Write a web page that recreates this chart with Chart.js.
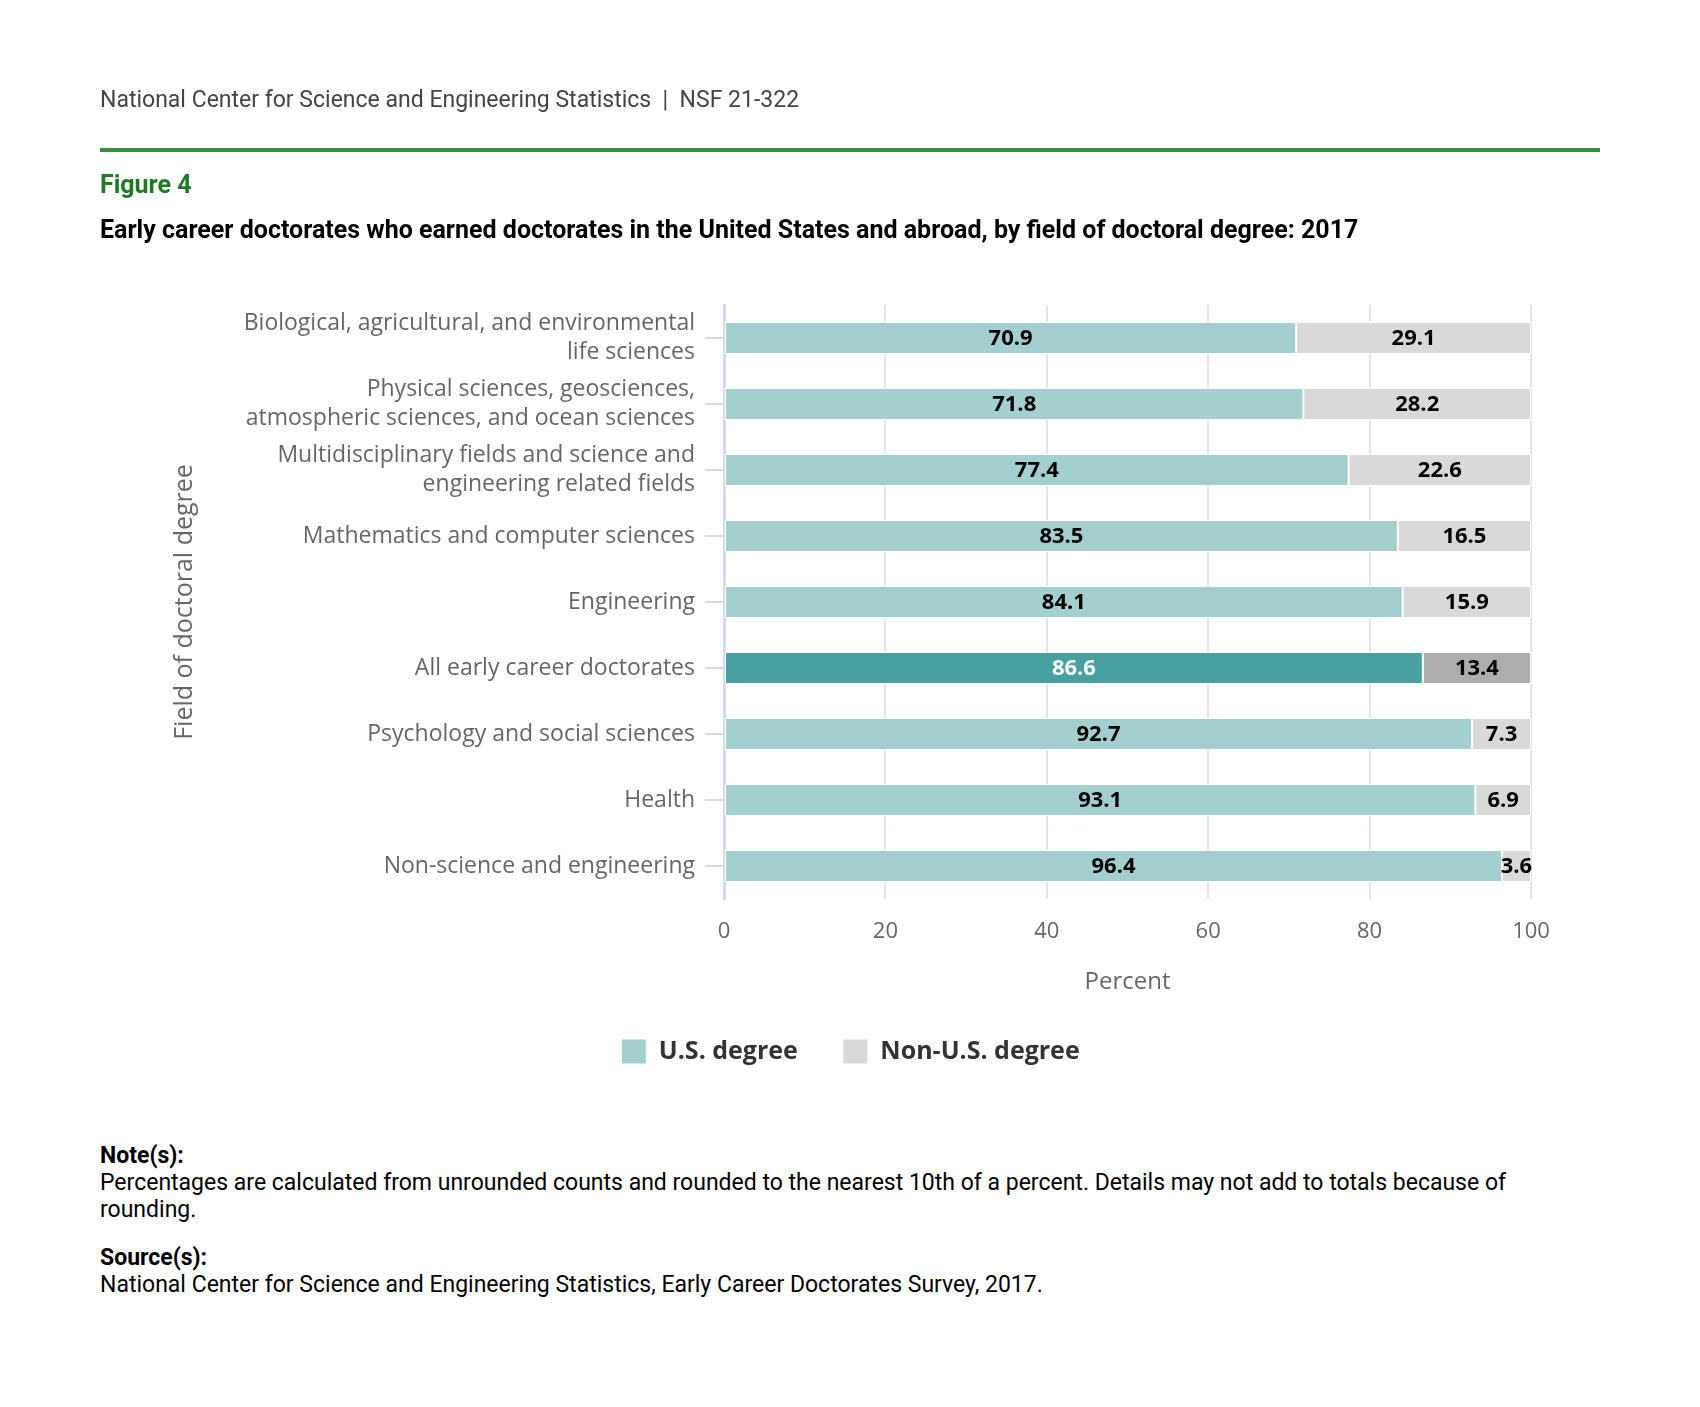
<!DOCTYPE html>
<html><head><meta charset="utf-8">
<script src="https://cdn.jsdelivr.net/npm/chart.js@4.4.0/dist/chart.umd.min.js"></script>
<style>
html,body{margin:0;padding:0;background:#fff;}
body{width:1700px;height:1407px;position:relative;overflow:hidden;font-family:Roboto,sans-serif;}
.t{position:absolute;left:100px;white-space:nowrap;}
#hdr{top:87px;font-size:23px;color:#444;line-height:26px;}
#rule{position:absolute;left:100px;top:148px;width:1500px;height:4px;background:#3b8b45;}
#fig{top:172px;font-size:25px;font-weight:bold;color:#1f7a26;line-height:26px;}
#ttl{top:217px;font-size:25px;font-weight:bold;color:#000;line-height:26px;}
#wrap{position:absolute;left:0;top:0;width:1700px;height:1100px;}
#notes{position:absolute;left:100px;top:1142px;font-size:23px;line-height:27px;color:#000;}
#notes b{font-weight:bold;}
#notes .gap{height:21px;}
</style></head><body>
<div id="wrap"><canvas id="c" width="1700" height="1100"></canvas></div>
<div class="t" id="hdr">National Center for Science and Engineering Statistics&nbsp; |&nbsp; NSF 21-322</div>
<div id="rule"></div>
<div class="t" id="fig">Figure 4</div>
<div class="t" id="ttl">Early career doctorates who earned doctorates in the United States and abroad, by field of doctoral degree: 2017</div>
<div id="notes">
<div><b>Note(s):</b></div>
<div>Percentages are calculated from unrounded counts and rounded to the nearest 10th of a percent. Details may not add to totals because of<br>rounding.</div>
<div class="gap"></div>
<div><b>Source(s):</b></div>
<div>National Center for Science and Engineering Statistics, Early Career Doctorates Survey, 2017.</div>
</div>
<script>
const categories = [
  ["Biological, agricultural, and environmental", "life sciences"],
  ["Physical sciences, geosciences,", "atmospheric sciences, and ocean sciences"],
  ["Multidisciplinary fields and science and", "engineering related fields"],
  "Mathematics and computer sciences",
  "Engineering",
  "All early career doctorates",
  "Psychology and social sciences",
  "Health",
  "Non-science and engineering"
];
const usDegree = [70.9, 71.8, 77.4, 83.5, 84.1, 86.6, 92.7, 93.1, 96.4];
const nonUsDegree = [29.1, 28.2, 22.6, 16.5, 15.9, 13.4, 7.3, 6.9, 3.6];
const seriesNames = ["U.S. degree", "Non-U.S. degree"];
const xTickStep = 20;
const highlightIndex = 5;

const usColors = usDegree.map((v, i) => i === highlightIndex ? '#48a0a0' : '#a3cfcf');
const nonUsColors = nonUsDegree.map((v, i) => i === highlightIndex ? '#adadad' : '#d9d9d9');

const valueLabels = {
  id: 'valueLabels',
  afterDatasetsDraw(chart) {
    const ctx = chart.ctx;
    ctx.save();
    ctx.font = 'bold 22px "Open Sans"';
    ctx.textAlign = 'center';
    ctx.textBaseline = 'middle';
    chart.data.datasets.forEach((ds, di) => {
      const meta = chart.getDatasetMeta(di);
      meta.data.forEach((bar, i) => {
        const p = bar.getProps(['x', 'y', 'base'], true);
        ctx.fillStyle = (di === 0 && i === highlightIndex) ? '#ffffff' : '#000000';
        ctx.fillText(ds.data[i].toFixed(1), (p.x + p.base) / 2, p.y + 1);
      });
    });
    ctx.restore();
  }
};

function draw() {
  new Chart(document.getElementById('c'), {
    type: 'bar',
    data: {
      labels: categories,
      datasets: [
        { label: seriesNames[0], data: usDegree, backgroundColor: usColors, borderColor: '#ffffff', borderWidth: 1, borderSkipped: false, barPercentage: 0.97, categoryPercentage: 0.5 },
        { label: seriesNames[1], data: nonUsDegree, backgroundColor: nonUsColors, borderColor: '#ffffff', borderWidth: 1, borderSkipped: false, barPercentage: 0.97, categoryPercentage: 0.5 }
      ]
    },
    options: {
      indexAxis: 'y',
      responsive: false,
      animation: false,
      layout: { padding: { top: 305, left: 170, right: 169, bottom: 26 } },
      plugins: {
        tooltip: { enabled: false },
        legend: {
          position: 'bottom',
          labels: {
            boxWidth: 25, boxHeight: 25, padding: 45,
            color: '#333333',
            font: { family: 'Open Sans', size: 25, weight: 'bold' }
          }
        }
      },
      scales: {
        x: {
          stacked: true, min: 0, max: 100,
          ticks: { stepSize: xTickStep, color: '#666666', padding: 20, font: { family: 'Open Sans', size: 22 } },
          grid: { color: '#e5e5e5', lineWidth: 2, drawTicks: false },
          border: { display: false },
          title: { display: true, text: 'Percent', color: '#666666', padding: 0, font: { family: 'Open Sans', size: 24, lineHeight: 1 } },
          afterFit(s) { s.height = 95; }
        },
        y: {
          stacked: true,
          ticks: { color: '#666666', padding: 10, font: { family: 'Open Sans', size: 23, lineHeight: 1.26 } },
          grid: { offset: false, drawOnChartArea: false, drawTicks: true, tickLength: 19, color: '#d5daee', lineWidth: 2 },
          border: { color: '#d5daee', width: 3 },
          title: { display: true, text: 'Field of doctoral degree', color: '#666666', padding: 0, font: { family: 'Open Sans', size: 25, lineHeight: 1.2 } },
          afterFit(s) { s.width = 554; }
        }
      }
    },
    plugins: [valueLabels]
  });
}
Promise.all([
  document.fonts.load('22px "Open Sans"'),
  document.fonts.load('bold 22px "Open Sans"')
]).then(draw, draw);
</script>
</body></html>
